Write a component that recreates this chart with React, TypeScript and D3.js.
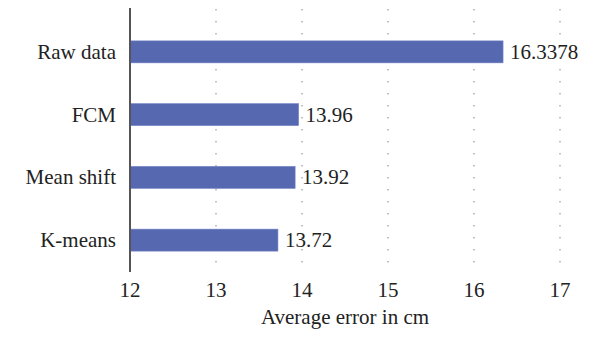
import React from "react";
import * as d3 from "d3";

const categories = ["Raw data", "FCM", "Mean shift", "K-means"];
const values = [16.3378, 13.96, 13.92, 13.72];
const valueLabels = ["16.3378", "13.96", "13.92", "13.72"];
const ticks = [12, 13, 14, 15, 16, 17];
const axisTitle = "Average error in cm";

export default function App() {
  const W = 600, H = 352;
  const x = d3.scaleLinear().domain([12, 17]).range([130, 560]);
  const y = d3.scaleBand<string>().domain(categories).range([20.5, 271.5]).paddingInner(0.65).paddingOuter(0.325);
  const FF = "Liberation Serif";
  return (
    <svg width={W} height={H} fontFamily={FF} style={{ position: "absolute", left: 0, top: 0 }}>
      <rect x={0} y={0} width={W} height={H} fill="#fff" />
      {ticks.slice(1).map((t) => (
        <line key={t} x1={x(t)} x2={x(t)} y1={9} y2={272} stroke="#999" strokeWidth={1.2} strokeDasharray="1.5,10.5" />
      ))}
      {categories.map((c, i) => (
        <rect key={"b" + c} x={x(12)} y={y(c)} width={x(values[i]) - x(12)} height={y.bandwidth()} fill="#5668b0" stroke="#7080c4" strokeWidth={0.6} />
      ))}
      {categories.map((c, i) => (
        <text key={"v" + c} x={x(values[i]) + 7} y={y(c)! + y.bandwidth() / 2 + 7} fontFamily={FF} fontSize={21} fill="#222">{valueLabels[i]}</text>
      ))}
      {categories.map((c) => (
        <text key={"c" + c} x={116} y={y(c)! + y.bandwidth() / 2 + 7} textAnchor="end" fontFamily={FF} fontSize={21} fill="#222">{c}</text>
      ))}
      <line x1={x(12)} x2={x(12)} y1={8} y2={272} stroke="#555" strokeWidth={2} />
      {ticks.map((t) => (
        <text key={t} x={x(t)} y={297} textAnchor="middle" fontFamily={FF} fontSize={21} fill="#222">{t}</text>
      ))}
      <text x={x(14.5)} y={324} textAnchor="middle" fontFamily={FF} fontSize={21} fill="#222">{axisTitle}</text>
    </svg>
  );
}
